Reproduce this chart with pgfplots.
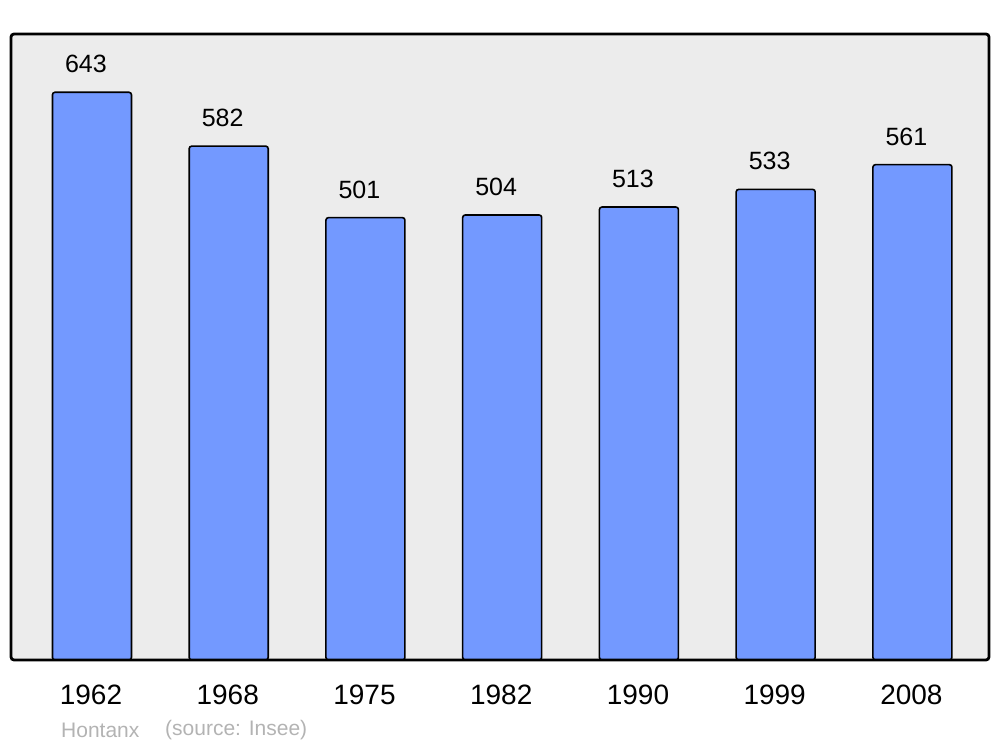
\documentclass[border=0pt]{standalone}
\usepackage{pgfplots}
\pgfplotsset{compat=1.18}
\usepackage{fontspec}
\setmainfont{Liberation Sans}
\definecolor{barcol}{RGB}{115,153,255}
\definecolor{bgcol}{RGB}{236,236,236}
\definecolor{footcol}{RGB}{179,179,179}
\begin{document}
\begin{tikzpicture}
\useasboundingbox (0,0) rectangle (1000pt,747pt);
\begin{axis}[name=ax, at={(11pt,87pt)}, anchor=south west,
  width=978pt, height=626pt, scale only axis,
  xmin=-0.592, xmax=6.56, ymin=0, ymax=709,
  axis line style={draw=none},
  axis background/.style={fill=bgcol, rounded corners=3pt},
  ytick=\empty, xtick=data,
  xticklabels={1962,1968,1975,1982,1990,1999,2008},
  major tick length=0pt,
  xticklabel style={font=\fontsize{28}{32}\selectfont, anchor=center, yshift=-35pt, xshift=-1pt},
  /pgf/number format/assume math mode=true,
  ybar, bar width=79pt,
  nodes near coords,
  nodes near coords style={font=\fontsize{25}{30}\selectfont, anchor=center, yshift=28pt, xshift=-6pt, text=black},
]
\addplot[fill=barcol, draw=black, line width=1.6pt, rounded corners=2.5pt] coordinates {
(0,643) (1,582) (2,501) (3,504) (4,513) (5,533) (6,561)};
\end{axis}
\draw[line width=2.8pt, rounded corners=3pt] (ax.south west) rectangle (ax.north east);
\node[anchor=west, inner sep=0pt, text=footcol, font=\fontsize{21}{25}\selectfont] at (61pt,17pt) {Hontanx};
\node[anchor=west, inner sep=0pt, text=footcol, font=\fontsize{21}{25}\selectfont] at (165pt,17pt) {(source: Insee)};
\end{tikzpicture}
\end{document}
